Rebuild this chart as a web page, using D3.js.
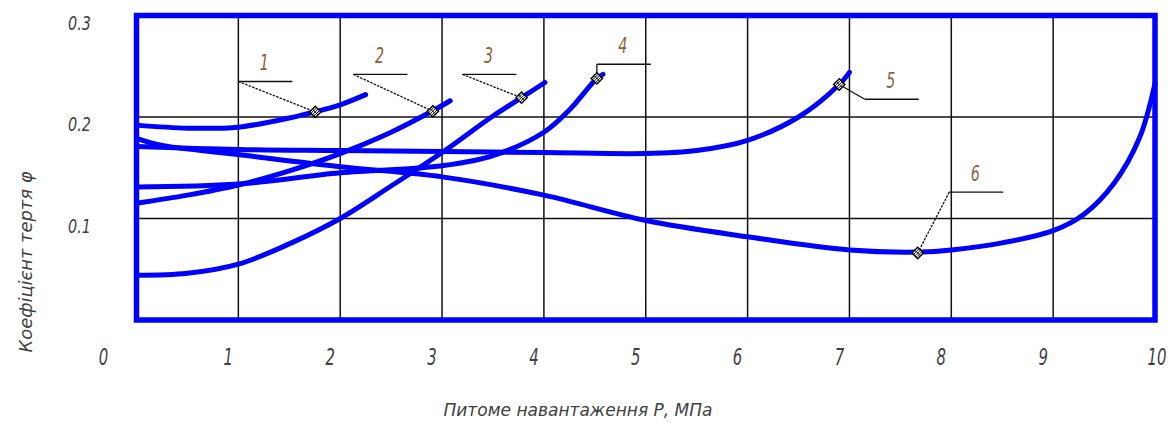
<!DOCTYPE html>
<html>
<head>
<meta charset="utf-8">
<script src="https://cdn.jsdelivr.net/npm/d3@7"></script>
<style>
    body { margin: 0; background: #fff; }
    text { font-family: "DejaVu Sans Condensed", "DejaVu Sans", sans-serif; font-style: italic; }
</style>
</head>
<body>
<div id="chart"></div>
<script>
// осі
var xTicks = [0, 1, 2, 3, 4, 5, 6, 7, 8, 9, 10];
var yTicks = [0.1, 0.2, 0.3];
var xTitle = "Питоме навантаження Р, МПа";
var yTitle = "Коефіцієнт тертя φ";

// криві 1..6 (P, МПа -> коефіцієнт тертя)
var curve1X = [0, 0.5, 1, 1.5, 1.75, 2, 2.25];
var curve1Y = [0.192, 0.189, 0.190, 0.199, 0.205, 0.212, 0.222];
var curve2X = [0, 0.5, 1, 1.5, 2, 2.5, 2.9, 3.08];
var curve2Y = [0.115, 0.123, 0.133, 0.147, 0.164, 0.185, 0.2056, 0.216];
var curve3X = [0, 0.5, 1, 1.5, 2, 2.5, 3, 3.5, 3.78, 4.01];
var curve3Y = [0.044, 0.046, 0.055, 0.075, 0.100, 0.132, 0.165, 0.201, 0.219, 0.234];
var curve4X = [0, 1, 2, 3, 3.5, 4, 4.25, 4.52, 4.58];
var curve4Y = [0.131, 0.134, 0.145, 0.152, 0.162, 0.185, 0.207, 0.238, 0.242];
var curve5X = [0, 1, 2, 3, 4, 5, 5.5, 6, 6.5, 6.9, 7.0];
var curve5Y = [0.171, 0.168, 0.167, 0.166, 0.165, 0.164, 0.167, 0.177, 0.200, 0.232, 0.244];
var curve6X = [0, 0.25, 1, 2, 3, 4, 5, 6, 7, 7.7, 8, 8.5, 9, 9.3, 9.6, 9.85, 10];
var curve6Y = [0.179, 0.172, 0.163, 0.151, 0.141, 0.123, 0.098, 0.082, 0.069, 0.067, 0.069, 0.076, 0.088, 0.104, 0.135, 0.18, 0.233];

// позиції виносок
var calloutNames = ["1", "2", "3", "4", "5", "6"];
var markerX = [1.755, 2.91, 3.78, 4.52, 6.9, 7.67];
var markerY = [0.205, 0.2056, 0.219, 0.238, 0.232, 0.066];
var shelfX = [1.0, 2.13, 3.2, 4.52, 7.15, 7.98];
var shelfY = [0.235, 0.242, 0.242, 0.252, 0.2175, 0.126];

var width = 1170, height = 423;
var blue = "#0000ff";
var textColor = "#404040";

var svg = d3.select("#chart").append("svg")
    .attr("width", width)
    .attr("height", height);

var x = d3.scaleLinear().domain([0, 10]).range([136.5, 1155]);
var y = d3.scaleLinear().domain([0, 0.3]).range([320, 15.5]);

// сітка
var gGrid = svg.append("g").attr("class", "grid");
gGrid.selectAll(".vline")
    .data(xTicks.slice(1, -1))
    .enter().append("line")
    .attr("x1", function (d) { return x(d); })
    .attr("x2", function (d) { return x(d); })
    .attr("y1", y(0.3))
    .attr("y2", y(0))
    .attr("stroke", "#111")
    .attr("stroke-width", 1.5);
gGrid.selectAll(".hline")
    .data(yTicks.slice(0, -1))
    .enter().append("line")
    .attr("x1", x(0))
    .attr("x2", x(10))
    .attr("y1", function (d) { return y(d); })
    .attr("y2", function (d) { return y(d); })
    .attr("stroke", "#111")
    .attr("stroke-width", 1.5);

// криві
var curves = [
    [curve1X, curve1Y], [curve2X, curve2Y], [curve3X, curve3Y],
    [curve4X, curve4Y], [curve5X, curve5Y], [curve6X, curve6Y]
].map(function (c) {
    return c[0].map(function (v, i) { return [v, c[1][i]]; });
});

var line = d3.line()
    .x(function (d) { return x(d[0]); })
    .y(function (d) { return y(d[1]); })
    .curve(d3.curveCatmullRom.alpha(0.5));

svg.append("g").attr("class", "curves")
    .selectAll("path")
    .data(curves)
    .enter().append("path")
    .attr("d", line)
    .attr("fill", "none")
    .attr("stroke", blue)
    .attr("stroke-width", 5)
    .attr("stroke-linecap", "round")
    .attr("stroke-linejoin", "round");

// рамка
svg.append("rect")
    .attr("x", x(0))
    .attr("y", y(0.3))
    .attr("width", x(10) - x(0))
    .attr("height", y(0) - y(0.3))
    .attr("fill", "none")
    .attr("stroke", blue)
    .attr("stroke-width", 5.5);

// виноски
var callouts = calloutNames.map(function (n, i) {
    return {name: n, mx: x(markerX[i]), my: y(markerY[i]), sx: x(shelfX[i]), sy: y(shelfY[i])};
});
var gCall = svg.append("g").attr("class", "callouts");
gCall.selectAll(".leader")
    .data(callouts)
    .enter().append("line")
    .attr("x1", function (d) { return d.sx; })
    .attr("y1", function (d) { return d.sy; })
    .attr("x2", function (d) { return d.mx; })
    .attr("y2", function (d) { return d.my; })
    .attr("stroke", "#111")
    .attr("stroke-width", 1.3)
    .attr("stroke-dasharray", function (d) {
        var len = Math.hypot(d.sx - d.mx, d.sy - d.my);
        return len > 35 ? "2.5,1.2" : null;
    });
gCall.selectAll(".shelf")
    .data(callouts)
    .enter().append("line")
    .attr("x1", function (d) { return d.sx; })
    .attr("x2", function (d) { return d.sx + 54; })
    .attr("y1", function (d) { return d.sy; })
    .attr("y2", function (d) { return d.sy; })
    .attr("stroke", "#111")
    .attr("stroke-width", 1.4);
var marks = gCall.selectAll(".marker")
    .data(callouts)
    .enter().append("g")
    .attr("transform", function (d) { return "translate(" + d.mx + "," + d.my + ") rotate(45)"; });
marks.append("rect")
    .attr("x", -4).attr("y", -4)
    .attr("width", 8).attr("height", 8)
    .attr("fill", "#fff")
    .attr("stroke", "#000")
    .attr("stroke-width", 1.4);
marks.append("path")
    .attr("d", "M-4,0H4M0,-4V4M-2,-4V4M2,-4V4")
    .attr("stroke", "#000")
    .attr("stroke-width", 0.9);
gCall.selectAll(".ctext")
    .data(callouts)
    .enter().append("text")
    .attr("transform", function (d) { return "translate(" + (d.sx + 26) + "," + (d.sy - 11) + ") scale(0.72,1)"; })
    .attr("text-anchor", "middle")
    .attr("font-size", 22)
    .attr("fill", "#8c6239")
    .text(function (d) { return d.name; });

// підписи осі X
function xLabelPos(v) {
    if (v === 0) return x(0) - 33;
    if (v === 10) return x(10) + 2;
    return x(v) - 10;
}
svg.append("g").selectAll("text")
    .data(xTicks)
    .enter().append("text")
    .attr("transform", function (d) { return "translate(" + xLabelPos(d) + ",365) scale(0.72,1)"; })
    .attr("text-anchor", "middle")
    .attr("font-size", 23)
    .attr("fill", textColor)
    .text(function (d) { return d; });

// підписи осі Y
svg.append("g").selectAll("text")
    .data(yTicks)
    .enter().append("text")
    .attr("transform", function (d) { return "translate(91," + (y(d) + 14) + ") scale(0.8,1)"; })
    .attr("text-anchor", "end")
    .attr("font-size", 20)
    .attr("fill", textColor)
    .text(function (d) { return d3.format(".1f")(d); });

// назви осей
svg.append("text")
    .attr("x", 578)
    .attr("y", 416)
    .attr("text-anchor", "middle")
    .attr("font-size", 17)
    .attr("textLength", 269)
    .attr("lengthAdjust", "spacingAndGlyphs")
    .attr("fill", textColor)
    .text(xTitle);

svg.append("text")
    .attr("transform", "translate(32,262) rotate(-90)")
    .attr("text-anchor", "middle")
    .attr("font-size", 17)
    .attr("textLength", 181)
    .attr("lengthAdjust", "spacingAndGlyphs")
    .attr("fill", textColor)
    .text(yTitle);
</script>
</body>
</html>
